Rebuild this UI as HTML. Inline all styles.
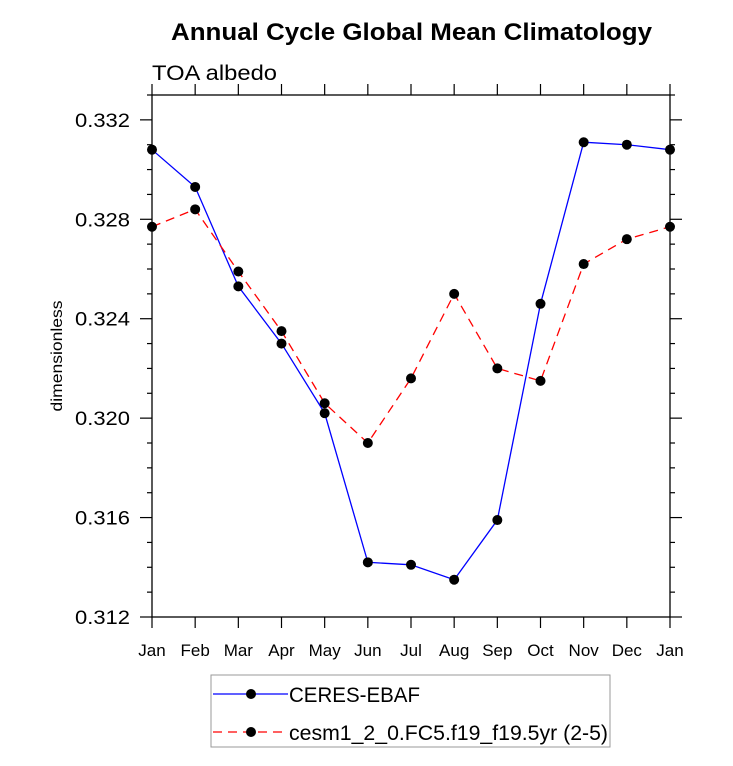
<!DOCTYPE html>
<html><head><meta charset="utf-8"><style>body{margin:0;background:#fff}svg{display:block}text{font-family:"Liberation Sans",Arial,sans-serif}</style></head>
<body>
<svg id="chart" width="733" height="766" xmlns="http://www.w3.org/2000/svg">
<text x="171" y="40" textLength="481" lengthAdjust="spacingAndGlyphs" font-size="24" font-weight="bold">Annual Cycle Global Mean Climatology</text>
<text x="152" y="80" textLength="125" lengthAdjust="spacingAndGlyphs" font-size="21">TOA albedo</text>
<text transform="translate(62,356) rotate(-90)" text-anchor="middle" textLength="111" lengthAdjust="spacingAndGlyphs" font-size="16">dimensionless</text>
<g id="axes"></g><g id="series"></g>
<g>
<rect x="211" y="675" width="399" height="72" fill="#fff" stroke="#999" stroke-width="1"/>
<line x1="213" y1="694" x2="288" y2="694" stroke="#0000ff" stroke-width="1.3"/><circle cx="251" cy="694" r="5" fill="#000"/>
<text x="289" y="702" textLength="131" lengthAdjust="spacingAndGlyphs" font-size="21">CERES-EBAF</text>
<line x1="213" y1="732" x2="288" y2="732" stroke="#ff0000" stroke-width="1.3" stroke-dasharray="9,6"/><circle cx="251" cy="732" r="5" fill="#000"/>
<text x="289" y="740" textLength="319" lengthAdjust="spacingAndGlyphs" font-size="21">cesm1_2_0.FC5.f19_f19.5yr (2-5)</text>
</g>
</svg>
<script>
const months=["Jan","Feb","Mar","Apr","May","Jun","Jul","Aug","Sep","Oct","Nov","Dec","Jan"];
const ceres=[0.3308,0.3293,0.3253,0.3230,0.3202,0.3142,0.3141,0.3135,0.3159,0.3246,0.3311,0.3310,0.3308];
const cesm=[0.3277,0.3284,0.3259,0.3235,0.3206,0.3190,0.3216,0.3250,0.3220,0.3215,0.3262,0.3272,0.3277];
const yTicks=[0.312,0.316,0.320,0.324,0.328,0.332];
const L=152,R=670,T=95,B=617,ymin=0.312,ymax=0.333;
const NS="http://www.w3.org/2000/svg";
const X=i=>L+(R-L)*i/(months.length-1);
const Y=v=>B-(v-ymin)/(ymax-ymin)*(B-T);
function mk(t,a,p){const e=document.createElementNS(NS,t);for(const k in a)e.setAttribute(k,a[k]);p.appendChild(e);return e;}
const ax=document.getElementById('axes');
const fr=mk('rect',{x:L,y:T,width:R-L,height:B-T,fill:'none',stroke:'#000','stroke-width':1.3},ax);


months.forEach((m,i)=>{const x=X(i);
mk('line',{x1:x,y1:B,x2:x,y2:B+11,stroke:'#000','stroke-width':1.2},ax);
mk('line',{x1:x,y1:T,x2:x,y2:T-11,stroke:'#000','stroke-width':1.2},ax);
const t=mk('text',{x:x,y:B+39,'text-anchor':'middle','font-size':17},ax);t.textContent=m;

});
for(let k=0;k<=21;k++){const v=ymin+k*0.001,y=Y(v);const major=(k%4===0);const len=major?12:5;
mk('line',{x1:L,y1:y,x2:L-len,y2:y,stroke:'#000','stroke-width':1.2},ax);
mk('line',{x1:R,y1:y,x2:R+len,y2:y,stroke:'#000','stroke-width':1.2},ax);}
yTicks.forEach(v=>{const t=mk('text',{x:130,y:Y(v)+7,'text-anchor':'end','font-size':19,textLength:55,lengthAdjust:'spacingAndGlyphs'},ax);t.textContent=v.toFixed(3);

});
const sg=document.getElementById('series');
function series(d,color,dash,name){
const p=mk('polyline',{points:d.map((v,i)=>X(i)+','+Y(v)).join(' '),fill:'none',stroke:color,'stroke-width':1.3,'stroke-dasharray':dash},sg);


d.forEach((v,i)=>{const c=mk('circle',{cx:X(i),cy:Y(v),r:5,fill:'#000'},sg);

});}
series(ceres,'#0000ff','none','ceres');
series(cesm,'#ff0000','9,6','cesm');
</script>
</body></html>
